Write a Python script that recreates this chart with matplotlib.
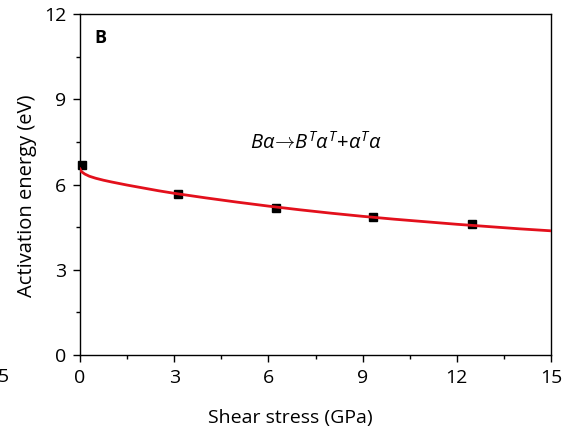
import matplotlib
matplotlib.use("Agg")
import matplotlib.pyplot as plt
from matplotlib.ticker import MultipleLocator

plt.rcParams['font.family'] = ['Open Sans', 'DejaVu Sans']
plt.rcParams['mathtext.fontset'] = 'custom'
plt.rcParams['mathtext.it'] = 'Open Sans:italic'
plt.rcParams['mathtext.rm'] = 'Open Sans'

# data points
stress_pts = [0.06, 3.12, 6.24, 9.33, 12.48]
energy_pts = [6.69, 5.66, 5.17, 4.86, 4.61]

# fitted curve
curve_x = [0, 0.05, 0.15, 0.3, 0.5, 0.75, 1, 1.5, 2, 2.5, 3, 4, 5, 6, 7, 8, 9, 10, 11, 12, 13, 14, 15]
curve_y = [6.55, 6.45, 6.37, 6.29, 6.22, 6.15, 6.09, 5.98, 5.88, 5.78, 5.69, 5.53, 5.38, 5.24, 5.11, 4.99, 4.88, 4.78, 4.69, 4.60, 4.52, 4.44, 4.37]

xticks = [0, 3, 6, 9, 12, 15]
yticks = [0, 3, 6, 9, 12]

fig = plt.figure(figsize=(5.69, 4.38), dpi=100)
ax = fig.add_axes([80/569, 83/438, 471/569, 341/438])

ax.plot(stress_pts, energy_pts, 's', color='black', markersize=5.5, zorder=2, clip_on=False)
ax.plot(curve_x, curve_y, '-', color='#e3101c', lw=2.0, zorder=3)

ax.set_xlim(0, 15)
ax.set_ylim(0, 12)
ax.set_xticks(xticks)
ax.set_yticks(yticks)
ax.xaxis.set_minor_locator(MultipleLocator(1.5))
ax.yaxis.set_minor_locator(MultipleLocator(1.5))
ax.tick_params(which='major', direction='out', length=5, width=1, labelsize=14, pad=5)
ax.tick_params(which='minor', direction='out', length=3, width=1)
for s in ax.spines.values():
    s.set_linewidth(1.0)

ax.set_xlabel('Shear stress (GPa)', fontsize=14)
ax.xaxis.set_label_coords((290 - 80) / 471, -(409 - 355) / 341)
ax.set_ylabel('Activation energy (eV)', fontsize=14.5)
ax.yaxis.set_label_coords(-(80 - 37) / 471, (355 - 196) / 341)

ax.text(0.03, 0.955, 'B', transform=ax.transAxes, fontsize=13, fontweight='bold', va='top', ha='left')
ax.text(7.5, 7.45, r'$B\alpha\!\rightarrow\! B^{T}\alpha^{T}\!+\!\alpha^{T}\alpha$', fontsize=14.5, ha='center', va='center')

fig.text(-2/569, 1 - 377/438, '5', fontsize=14, ha='left', va='center')

fig.savefig('out.png', dpi=100)
